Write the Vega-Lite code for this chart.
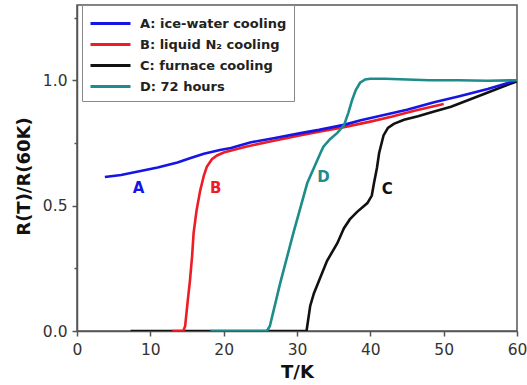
{
  "$schema": "https://vega.github.io/schema/vega-lite/v6.json",
  "width": 440,
  "height": 326,
  "autosize": {"type": "none"},
  "padding": {"left": 77, "top": 5, "right": 10, "bottom": 54},
  "config": {
    "font": "DejaVu Sans",
    "view": {"stroke": "#555555", "strokeWidth": 1.5},
    "axis": {
      "grid": false,
      "domainColor": "#555555",
      "domainWidth": 1.5,
      "tickColor": "#555555",
      "tickWidth": 1.5,
      "labelFont": "DejaVu Sans",
      "labelFontSize": 15.5,
      "labelColor": "#333333",
      "titleFont": "DejaVu Sans",
      "titleFontSize": 18,
      "titleFontWeight": "bold",
      "titleColor": "#111111"
    }
  },
  "datasets": {
    "curves": [
      {"series": "C: furnace cooling", "T": 7.3, "R": 0},
      {"series": "C: furnace cooling", "T": 31.3, "R": 0},
      {"series": "C: furnace cooling", "T": 31.5, "R": 0.04},
      {"series": "C: furnace cooling", "T": 31.8, "R": 0.1},
      {"series": "C: furnace cooling", "T": 32.3, "R": 0.15},
      {"series": "C: furnace cooling", "T": 33.0, "R": 0.2},
      {"series": "C: furnace cooling", "T": 34.1, "R": 0.28},
      {"series": "C: furnace cooling", "T": 35.5, "R": 0.35},
      {"series": "C: furnace cooling", "T": 36.4, "R": 0.41},
      {"series": "C: furnace cooling", "T": 37.2, "R": 0.445},
      {"series": "C: furnace cooling", "T": 38.2, "R": 0.475},
      {"series": "C: furnace cooling", "T": 39.6, "R": 0.51},
      {"series": "C: furnace cooling", "T": 40.2, "R": 0.54},
      {"series": "C: furnace cooling", "T": 40.5, "R": 0.59},
      {"series": "C: furnace cooling", "T": 40.9, "R": 0.65},
      {"series": "C: furnace cooling", "T": 41.2, "R": 0.71},
      {"series": "C: furnace cooling", "T": 41.8, "R": 0.78},
      {"series": "C: furnace cooling", "T": 42.4, "R": 0.81},
      {"series": "C: furnace cooling", "T": 43.2, "R": 0.826},
      {"series": "C: furnace cooling", "T": 44.6, "R": 0.842},
      {"series": "C: furnace cooling", "T": 46.5, "R": 0.856},
      {"series": "C: furnace cooling", "T": 48.7, "R": 0.875},
      {"series": "C: furnace cooling", "T": 51.0, "R": 0.894},
      {"series": "C: furnace cooling", "T": 55.5, "R": 0.945},
      {"series": "C: furnace cooling", "T": 60.0, "R": 0.996},
      {"series": "B: liquid N₂ cooling", "T": 13.0, "R": 0},
      {"series": "B: liquid N₂ cooling", "T": 14.5, "R": 0},
      {"series": "B: liquid N₂ cooling", "T": 14.75, "R": 0.02},
      {"series": "B: liquid N₂ cooling", "T": 15.1, "R": 0.12},
      {"series": "B: liquid N₂ cooling", "T": 15.4, "R": 0.2},
      {"series": "B: liquid N₂ cooling", "T": 15.7, "R": 0.3},
      {"series": "B: liquid N₂ cooling", "T": 15.9, "R": 0.39},
      {"series": "B: liquid N₂ cooling", "T": 16.3, "R": 0.48},
      {"series": "B: liquid N₂ cooling", "T": 16.8, "R": 0.56},
      {"series": "B: liquid N₂ cooling", "T": 17.3, "R": 0.62},
      {"series": "B: liquid N₂ cooling", "T": 17.7, "R": 0.655},
      {"series": "B: liquid N₂ cooling", "T": 18.4, "R": 0.685},
      {"series": "B: liquid N₂ cooling", "T": 19.1, "R": 0.7},
      {"series": "B: liquid N₂ cooling", "T": 20.0, "R": 0.712},
      {"series": "B: liquid N₂ cooling", "T": 23.0, "R": 0.735},
      {"series": "B: liquid N₂ cooling", "T": 27.0, "R": 0.76},
      {"series": "B: liquid N₂ cooling", "T": 30.0, "R": 0.778},
      {"series": "B: liquid N₂ cooling", "T": 33.0, "R": 0.795},
      {"series": "B: liquid N₂ cooling", "T": 36.4, "R": 0.813},
      {"series": "B: liquid N₂ cooling", "T": 40.0, "R": 0.835},
      {"series": "B: liquid N₂ cooling", "T": 43.0, "R": 0.855},
      {"series": "B: liquid N₂ cooling", "T": 46.0, "R": 0.878},
      {"series": "B: liquid N₂ cooling", "T": 50.0, "R": 0.905},
      {"series": "A: ice-water cooling", "T": 3.8, "R": 0.614},
      {"series": "A: ice-water cooling", "T": 6.0, "R": 0.622},
      {"series": "A: ice-water cooling", "T": 9.0, "R": 0.64},
      {"series": "A: ice-water cooling", "T": 11.0, "R": 0.652},
      {"series": "A: ice-water cooling", "T": 13.7, "R": 0.672},
      {"series": "A: ice-water cooling", "T": 15.5, "R": 0.69},
      {"series": "A: ice-water cooling", "T": 17.3, "R": 0.707},
      {"series": "A: ice-water cooling", "T": 19.5, "R": 0.722},
      {"series": "A: ice-water cooling", "T": 21.0, "R": 0.73},
      {"series": "A: ice-water cooling", "T": 23.6, "R": 0.752},
      {"series": "A: ice-water cooling", "T": 27.0, "R": 0.77},
      {"series": "A: ice-water cooling", "T": 30.5, "R": 0.789},
      {"series": "A: ice-water cooling", "T": 33.0, "R": 0.802},
      {"series": "A: ice-water cooling", "T": 36.4, "R": 0.822},
      {"series": "A: ice-water cooling", "T": 38.7, "R": 0.84},
      {"series": "A: ice-water cooling", "T": 42.0, "R": 0.862},
      {"series": "A: ice-water cooling", "T": 45.0, "R": 0.882},
      {"series": "A: ice-water cooling", "T": 48.7, "R": 0.912},
      {"series": "A: ice-water cooling", "T": 52.0, "R": 0.935},
      {"series": "A: ice-water cooling", "T": 56.0, "R": 0.965},
      {"series": "A: ice-water cooling", "T": 60.0, "R": 1.0},
      {"series": "D: 72 hours", "T": 18.2, "R": 0},
      {"series": "D: 72 hours", "T": 25.9, "R": 0},
      {"series": "D: 72 hours", "T": 26.3, "R": 0.02},
      {"series": "D: 72 hours", "T": 27.7, "R": 0.19},
      {"series": "D: 72 hours", "T": 29.5, "R": 0.39},
      {"series": "D: 72 hours", "T": 31.4, "R": 0.59},
      {"series": "D: 72 hours", "T": 32.3, "R": 0.65},
      {"series": "D: 72 hours", "T": 33.2, "R": 0.71},
      {"series": "D: 72 hours", "T": 33.6, "R": 0.735},
      {"series": "D: 72 hours", "T": 34.5, "R": 0.765},
      {"series": "D: 72 hours", "T": 35.5, "R": 0.79},
      {"series": "D: 72 hours", "T": 36.4, "R": 0.82},
      {"series": "D: 72 hours", "T": 37.0, "R": 0.87},
      {"series": "D: 72 hours", "T": 37.5, "R": 0.92},
      {"series": "D: 72 hours", "T": 38.0, "R": 0.96},
      {"series": "D: 72 hours", "T": 38.6, "R": 0.99},
      {"series": "D: 72 hours", "T": 39.3, "R": 1.003},
      {"series": "D: 72 hours", "T": 40.0, "R": 1.006},
      {"series": "D: 72 hours", "T": 42.0, "R": 1.006},
      {"series": "D: 72 hours", "T": 45.0, "R": 1.003},
      {"series": "D: 72 hours", "T": 48.0, "R": 1.0},
      {"series": "D: 72 hours", "T": 52.0, "R": 1.0},
      {"series": "D: 72 hours", "T": 56.0, "R": 0.998},
      {"series": "D: 72 hours", "T": 60.0, "R": 1.0}
    ],
    "labels": [
      {"series": "A: ice-water cooling", "label": "A", "T": 8.4, "R": 0.57},
      {"series": "B: liquid N₂ cooling", "label": "B", "T": 18.9, "R": 0.57},
      {"series": "C: furnace cooling", "label": "C", "T": 42.3, "R": 0.567},
      {"series": "D: 72 hours", "label": "D", "T": 33.6, "R": 0.613}
    ]
  },
  "layer": [
    {
      "data": {"name": "curves"},
      "mark": {"type": "line", "strokeWidth": 2.6, "clip": true},
      "encoding": {
        "x": {
          "field": "T", "type": "quantitative",
          "scale": {"domain": [0, 60], "nice": false},
          "axis": {
            "values": [0, 5, 10, 15, 20, 25, 30, 35, 40, 45, 50, 55, 60],
            "labelExpr": "datum.value % 10 == 0 ? datum.label : ''",
            "tickSize": {"condition": {"test": "datum.value % 10 == 0", "value": 5}, "value": 3},
            "labelPadding": 6,
            "labelOverlap": false,
            "labelFlush": false,
            "title": "T/K",
            "titleY": 46,
            "titleBaseline": "alphabetic"
          }
        },
        "y": {
          "field": "R", "type": "quantitative",
          "scale": {"domain": [0, 1.3], "nice": false},
          "axis": {
            "values": [0, 0.25, 0.5, 0.75, 1.0, 1.25],
            "format": ".1f",
            "labelExpr": "datum.value % 0.5 == 0 ? datum.label : ''",
            "tickSize": {"condition": {"test": "datum.value % 0.5 == 0", "value": 5}, "value": 3},
            "labelPadding": 5,
            "labelOverlap": false,
            "labelFlush": false,
            "title": "R(T)/R(60K)",
            "titleX": -53,
            "titleY": 171,
            "titleBaseline": "middle",
            "titleAlign": "center"
          }
        },
        "color": {
          "field": "series", "type": "nominal",
          "scale": {
            "domain": ["A: ice-water cooling", "B: liquid N₂ cooling", "C: furnace cooling", "D: 72 hours"],
            "range": ["#1515e6", "#ee1c25", "#111111", "#1d8c8a"]
          },
          "legend": {
            "orient": "none",
            "legendX": 5,
            "legendY": 0,
            "title": null,
            "symbolType": "M-1,0H3",
            "symbolSize": 400,
            "symbolStrokeWidth": 3,
            "labelFont": "DejaVu Sans",
            "labelFontSize": 13,
            "labelFontWeight": "bold",
            "labelColor": "#222222",
            "labelOffset": 28,
            "padding": 7,
            "rowPadding": 2,
            "strokeColor": "#888888",
            "fillColor": "white"
          }
        }
      }
    },
    {
      "data": {"name": "labels"},
      "mark": {"type": "text", "fontWeight": "bold", "fontSize": 15, "font": "DejaVu Sans"},
      "encoding": {
        "x": {"field": "T", "type": "quantitative"},
        "y": {"field": "R", "type": "quantitative"},
        "text": {"field": "label"},
        "color": {"field": "series", "type": "nominal", "legend": null}
      }
    }
  ],
  "resolve": {"legend": {"color": "independent"}}
}
